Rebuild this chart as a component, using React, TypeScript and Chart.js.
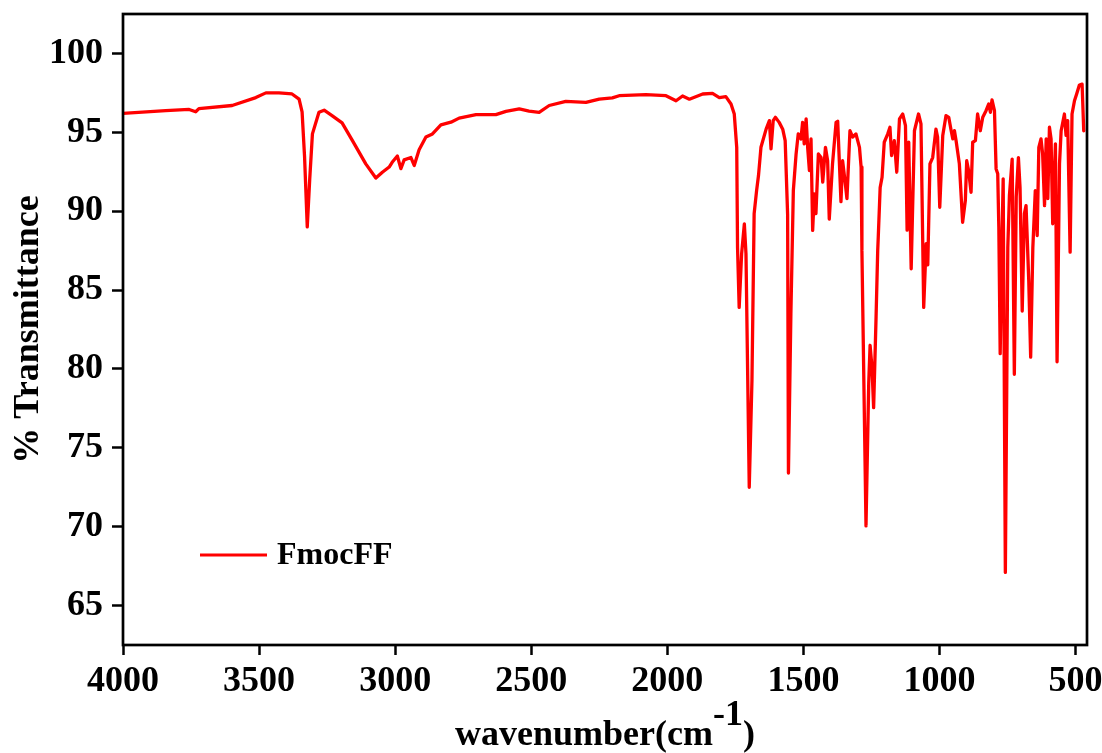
import React, { useEffect, useRef } from "react";
import { Chart, registerables } from "chart.js";

Chart.register(...registerables);

const FONT = "'Liberation Serif', 'Times New Roman', serif";

const seriesLabel = "FmocFF";
const yTitle = "% Transmittance";
const xTitleMain = "wavenumber(cm";
const xTitleSup = "-1";
const xTitleEnd = ")";

const xTicks = [4000, 3500, 3000, 2500, 2000, 1500, 1000, 500];
const yTicks = [65, 70, 75, 80, 85, 90, 95, 100];

const wavenumbers = [
  4000, 3843, 3757, 3733, 3721, 3599, 3512, 3475, 3427, 3379, 3353, 3342, 3333, 3323, 3314, 3304,
  3280, 3261, 3232, 3195, 3158, 3108, 3071, 3047, 3022, 3011, 2992, 2979, 2967, 2942, 2930, 2912,
  2887, 2863, 2832, 2795, 2765, 2703, 2630, 2593, 2544, 2508, 2471, 2434, 2373, 2299, 2250, 2202,
  2177, 2079, 2005, 1968, 1944, 1919, 1870, 1834, 1809, 1785, 1766, 1754, 1745, 1742, 1736, 1727,
  1717, 1711, 1699, 1689, 1681, 1672, 1665, 1656, 1637, 1625, 1619, 1611, 1603, 1589, 1576, 1567,
  1558, 1555, 1546, 1537, 1527, 1519, 1509, 1503, 1497, 1490, 1484, 1478, 1472, 1466, 1460, 1454,
  1445, 1435, 1429, 1419, 1411, 1405, 1393, 1380, 1374, 1362, 1356, 1347, 1340, 1329, 1319, 1307,
  1294, 1288, 1285, 1270, 1260, 1255, 1248, 1242, 1233, 1227, 1225, 1218, 1211, 1203, 1190, 1182,
  1176, 1166, 1157, 1147, 1135, 1125, 1119, 1113, 1104, 1092, 1077, 1068, 1058, 1049, 1043, 1035,
  1025, 1013, 1007, 999, 988, 976, 966, 957, 951, 945, 939, 927, 915, 905, 900, 893,
  884, 878, 868, 860, 850, 841, 829, 819, 813, 807, 798, 792, 786, 782, 777, 772,
  766, 758, 749, 743, 733, 725, 718, 710, 704, 696, 688, 682, 672, 665, 657, 648,
  641, 635, 627, 621, 614, 608, 602, 596, 590, 584, 574, 568, 559, 553, 541, 535,
  529, 520, 513, 504, 496, 486, 476, 470,
];

const transmittance = [
  96.2, 96.37, 96.45, 96.3, 96.5, 96.7, 97.2, 97.5, 97.5, 97.43, 97.1, 96.3, 93.5, 89.0, 92.0, 94.9,
  96.27, 96.4, 96.06, 95.6, 94.5, 93.0, 92.1, 92.47, 92.8, 93.1, 93.5, 92.7, 93.25, 93.4, 92.9, 93.9,
  94.7, 94.9, 95.47, 95.64, 95.9, 96.12, 96.12, 96.33, 96.48, 96.35, 96.27, 96.7, 96.96, 96.9, 97.1, 97.18,
  97.32, 97.39, 97.32, 97.0, 97.3, 97.1, 97.43, 97.47, 97.2, 97.26, 96.8, 96.16, 94.05, 87.7, 83.9, 87.3,
  89.2, 87.3, 72.5, 79.3, 89.85, 91.3, 92.26, 94.05, 95.2, 95.74, 93.95, 95.74, 95.95, 95.63, 95.2, 94.47,
  89.8, 73.4, 83.5, 91.3, 93.6, 94.9, 94.58, 95.63, 94.27, 95.85, 93.95, 92.58, 94.58, 88.78, 91.1, 89.84,
  93.63, 93.4, 91.84, 94.05, 93.2, 89.5, 93.0, 95.63, 95.7, 90.6, 93.2, 91.9, 90.8, 95.1, 94.7, 94.9,
  94.05, 92.8, 87.5, 70.05, 79.1, 81.5, 80.1, 77.55, 83.3, 87.5, 88.35, 91.5, 92.15, 94.37, 94.9, 95.32,
  93.53, 94.47, 92.47, 95.85, 96.16, 95.42, 88.8, 94.37, 86.35, 95.1, 96.16, 95.53, 83.9, 87.94, 86.6, 93.0,
  93.4, 95.2, 94.7, 90.25, 94.8, 96.06, 95.95, 95.1, 94.58, 95.1, 94.47, 93.0, 89.3, 90.68, 93.2, 92.58,
  91.2, 94.37, 94.47, 96.16, 95.1, 95.95, 96.37, 96.8, 96.27, 97.05, 96.37, 92.68, 92.37, 89.0, 80.97, 86.7,
  92.05, 67.1, 87.7, 91.0, 93.3, 79.66, 90.9, 93.4, 91.5, 83.67, 89.85, 90.35, 85.6, 80.75, 87.7, 91.3,
  88.46, 94.05, 94.58, 93.63, 90.35, 94.58, 90.8, 95.32, 94.58, 89.2, 94.27, 80.45, 93.0, 95.1, 96.16, 94.8,
  95.74, 87.4, 96.16, 97.0, 97.43, 98.0, 98.05, 95.1,
];

const framePlugin = {
  id: "frameAndLabels",
  afterDraw(chart: any) {
    const { ctx, chartArea } = chart;
    const { left, right, top, bottom } = chartArea;
    ctx.save();
    ctx.strokeStyle = "#000";
    ctx.lineWidth = 2.7;
    ctx.strokeRect(left, top, right - left, bottom - top);

    ctx.fillStyle = "#000";
    ctx.textBaseline = "alphabetic";
    ctx.textAlign = "left";
    const mainFont = `bold 36px ${FONT}`;
    const supFont = `bold 36px ${FONT}`;
    ctx.font = mainFont;
    const w1 = ctx.measureText(xTitleMain).width;
    const w3 = ctx.measureText(xTitleEnd).width;
    ctx.font = supFont;
    const w2 = ctx.measureText(xTitleSup).width;
    const total = w1 + w2 + w3;
    const cx = (left + right) / 2;
    let x = cx - total / 2;
    const baseY = 745;
    ctx.font = mainFont;
    ctx.fillText(xTitleMain, x, baseY);
    x += w1;
    ctx.font = supFont;
    ctx.fillText(xTitleSup, x, baseY - 20);
    x += w2;
    ctx.font = mainFont;
    ctx.fillText(xTitleEnd, x, baseY);

    const ds = chart.data.datasets[0];
    ctx.strokeStyle = ds.borderColor;
    ctx.lineWidth = 3.2;
    ctx.beginPath();
    ctx.moveTo(200, 555);
    ctx.lineTo(267, 555);
    ctx.stroke();
    ctx.font = `bold 32px ${FONT}`;
    ctx.textBaseline = "middle";
    ctx.fillText(ds.label, 277, 556);
    ctx.restore();
  },
};

export default function App() {
  const canvasRef = useRef<HTMLCanvasElement | null>(null);

  useEffect(() => {
    if (!canvasRef.current) return;
    const tickFont = { family: FONT, size: 36, weight: "bold" as const };
    const chart = new Chart(canvasRef.current, {
      type: "line",
      data: {
        datasets: [
          {
            label: seriesLabel,
            data: wavenumbers.map((w, i) => ({ x: w, y: transmittance[i] })),
            borderColor: "#ff0000",
            backgroundColor: "#ff0000",
            borderWidth: 3.3,
            borderJoinStyle: "round",
            borderCapStyle: "round",
            pointRadius: 0,
            tension: 0,
            fill: false,
          },
        ],
      },
      options: {
        responsive: false,
        animation: false,
        layout: { padding: { left: 0, top: 14, right: 15, bottom: 0 } },
        plugins: {
          legend: { display: false },
          tooltip: { enabled: false },
        },
        scales: {
          x: {
            type: "linear",
            reverse: true,
            min: 458,
            max: 4000,
            afterBuildTicks: (s: any) => {
              s.ticks = xTicks.map((v) => ({ value: v }));
            },
            afterFit: (s: any) => {
              s.height = 108;
              s.paddingLeft = 0;
              s.paddingRight = 0;
            },
            border: { display: false },
            grid: {
              display: true,
              drawOnChartArea: false,
              drawTicks: true,
              tickLength: 10,
              tickColor: "#000",
              tickWidth: 2.5,
            },
            ticks: {
              color: "#000",
              font: tickFont,
              padding: 5,
              maxRotation: 0,
              autoSkip: false,
              callback: (v: any) => String(v),
            },
          },
          y: {
            type: "linear",
            min: 62.5,
            max: 102.5,
            afterBuildTicks: (s: any) => {
              s.ticks = yTicks.map((v) => ({ value: v }));
            },
            afterFit: (s: any) => {
              s.width = 123;
              s.paddingTop = 0;
              s.paddingBottom = 0;
            },
            border: { display: false },
            grid: {
              display: true,
              drawOnChartArea: false,
              drawTicks: true,
              tickLength: 11,
              tickColor: "#000",
              tickWidth: 2.5,
            },
            ticks: {
              color: "#000",
              font: tickFont,
              padding: 9,
              autoSkip: false,
              callback: (v: any) => String(v),
            },
            title: {
              display: true,
              text: yTitle,
              color: "#000",
              font: { family: FONT, size: 36, weight: "bold" as const },
              padding: { top: 7, bottom: 0 },
            },
          },
        },
      },
      plugins: [framePlugin],
    });
    return () => chart.destroy();
  }, []);

  return (
    <div style={{ position: "absolute", left: 0, top: 0, width: 1102, height: 753, background: "#fff" }}>
      <canvas ref={canvasRef} width={1102} height={753} />
    </div>
  );
}
